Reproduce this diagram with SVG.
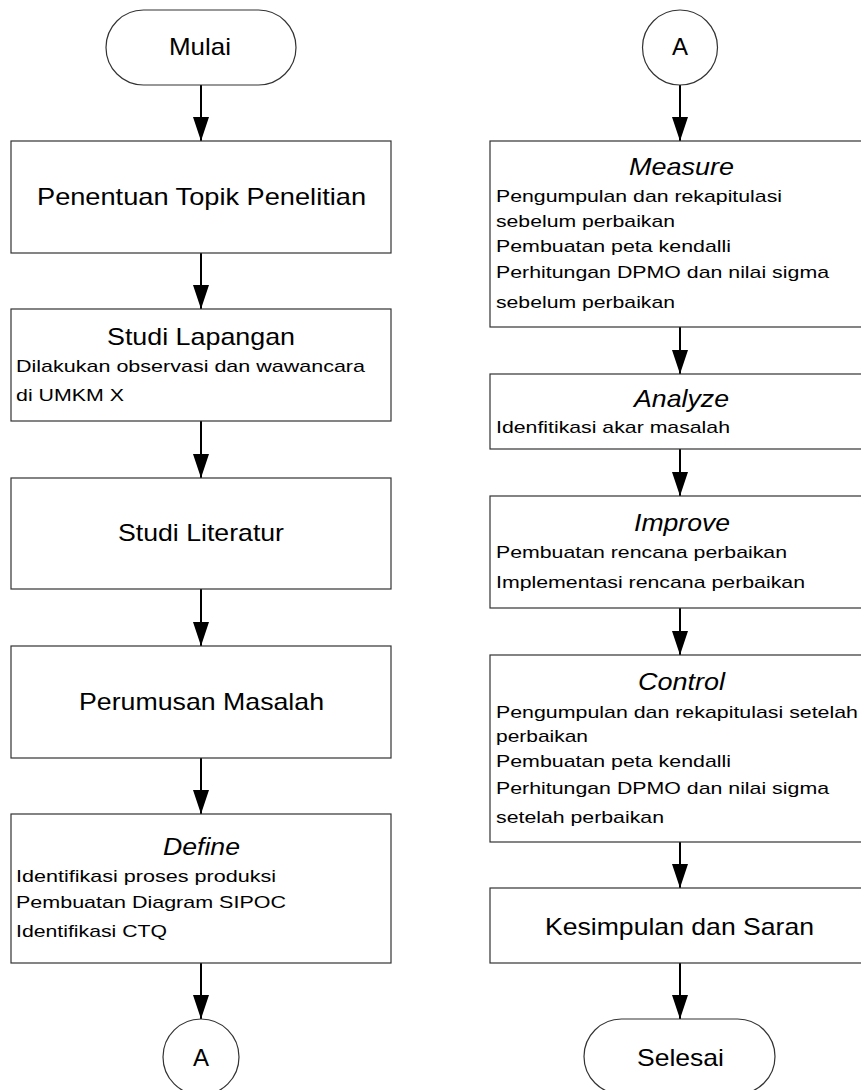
<svg xmlns="http://www.w3.org/2000/svg" width="861" height="1090" viewBox="0 0 861 1090">
<defs>
<style>
.box{fill:#fff;stroke:#333;stroke-width:1.2}
.t{font-family:"Liberation Sans",Arial,sans-serif;fill:#000}
.big{font-size:24px}
.it{font-size:24px;font-style:italic}
.sm{font-size:17px}
.c{text-anchor:middle}
.edge{stroke:#000;stroke-width:2;fill:none;marker-end:url(#ah)}
</style>
<marker id="ah" viewBox="0 0 24 16" refX="24" refY="8" markerWidth="24" markerHeight="16" markerUnits="userSpaceOnUse" orient="auto">
<path d="M0,0 L24,8 L0,16 z" fill="#000"/>
</marker>
</defs>
<rect width="861" height="1090" fill="#fff"/>

<g id="connectors">
<path class="edge" d="M201,85 V141"/>
<path class="edge" d="M201,253 V309"/>
<path class="edge" d="M201,421 V478"/>
<path class="edge" d="M201,589 V646"/>
<path class="edge" d="M201,758 V814"/>
<path class="edge" d="M201,963 V1019"/>
<path class="edge" d="M680,85 V141"/>
<path class="edge" d="M680,327 V374"/>
<path class="edge" d="M680,449 V496"/>
<path class="edge" d="M680,608 V655"/>
<path class="edge" d="M680,842 V888"/>
<path class="edge" d="M680,963 V1019"/>
</g>

<g id="mulai">
<rect class="box" x="106" y="10" width="190" height="75" rx="37.5" ry="37.5"/>
<text class="t big c" x="200" y="55" textLength="62" lengthAdjust="spacingAndGlyphs">Mulai</text>
</g>

<g id="topik">
<rect class="box" x="11" y="141" width="380" height="112"/>
<text class="t big" x="37" y="205" textLength="329" lengthAdjust="spacingAndGlyphs">Penentuan Topik Penelitian</text>
</g>

<g id="studi-lapangan">
<rect class="box" x="11" y="309" width="380" height="112"/>
<text class="t big" x="107" y="345" textLength="188" lengthAdjust="spacingAndGlyphs">Studi Lapangan</text>
<text class="t sm" x="16" y="372" textLength="349" lengthAdjust="spacingAndGlyphs">Dilakukan observasi dan wawancara</text>
<text class="t sm" x="16" y="401" textLength="108" lengthAdjust="spacingAndGlyphs">di UMKM X</text>
</g>

<g id="studi-literatur">
<rect class="box" x="11" y="478" width="380" height="111"/>
<text class="t big" x="118" y="541" textLength="166" lengthAdjust="spacingAndGlyphs">Studi Literatur</text>
</g>

<g id="perumusan">
<rect class="box" x="11" y="646" width="380" height="112"/>
<text class="t big" x="79" y="710" textLength="245" lengthAdjust="spacingAndGlyphs">Perumusan Masalah</text>
</g>

<g id="define">
<rect class="box" x="11" y="814" width="380" height="149"/>
<text class="t it" x="163" y="855" textLength="77" lengthAdjust="spacingAndGlyphs">Define</text>
<text class="t sm" x="16" y="882" textLength="260" lengthAdjust="spacingAndGlyphs">Identifikasi proses produksi</text>
<text class="t sm" x="16" y="908" textLength="270" lengthAdjust="spacingAndGlyphs">Pembuatan Diagram SIPOC</text>
<text class="t sm" x="16" y="937" textLength="151" lengthAdjust="spacingAndGlyphs">Identifikasi CTQ</text>
</g>

<g id="a-out">
<circle class="box" cx="201" cy="1057" r="38"/>
<text class="t big c" x="201" y="1066">A</text>
</g>

<g id="a-in">
<circle class="box" cx="680" cy="47.5" r="37.5"/>
<text class="t big c" x="680" y="55">A</text>
</g>

<g id="measure">
<rect class="box" x="490" y="141" width="380" height="186"/>
<text class="t it" x="629" y="175" textLength="105" lengthAdjust="spacingAndGlyphs">Measure</text>
<text class="t sm" x="496" y="202" textLength="286" lengthAdjust="spacingAndGlyphs">Pengumpulan dan rekapitulasi</text>
<text class="t sm" x="496" y="227" textLength="179" lengthAdjust="spacingAndGlyphs">sebelum perbaikan</text>
<text class="t sm" x="496" y="252" textLength="235" lengthAdjust="spacingAndGlyphs">Pembuatan peta kendalli</text>
<text class="t sm" x="496" y="278" textLength="333" lengthAdjust="spacingAndGlyphs">Perhitungan DPMO dan nilai sigma</text>
<text class="t sm" x="496" y="308" textLength="179" lengthAdjust="spacingAndGlyphs">sebelum perbaikan</text>
</g>

<g id="analyze">
<rect class="box" x="490" y="374" width="380" height="75"/>
<text class="t it" x="634" y="407" textLength="95" lengthAdjust="spacingAndGlyphs">Analyze</text>
<text class="t sm" x="496" y="433" textLength="234" lengthAdjust="spacingAndGlyphs">Idenfitikasi akar masalah</text>
</g>

<g id="improve">
<rect class="box" x="490" y="496" width="380" height="112"/>
<text class="t it" x="634" y="531" textLength="96" lengthAdjust="spacingAndGlyphs">Improve</text>
<text class="t sm" x="496" y="558" textLength="291" lengthAdjust="spacingAndGlyphs">Pembuatan rencana perbaikan</text>
<text class="t sm" x="496" y="588" textLength="309" lengthAdjust="spacingAndGlyphs">Implementasi rencana perbaikan</text>
</g>

<g id="control">
<rect class="box" x="490" y="655" width="380" height="187"/>
<text class="t it" x="638" y="690" textLength="87" lengthAdjust="spacingAndGlyphs">Control</text>
<text class="t sm" x="496" y="718" textLength="362" lengthAdjust="spacingAndGlyphs">Pengumpulan dan rekapitulasi setelah</text>
<text class="t sm" x="496" y="742" textLength="92" lengthAdjust="spacingAndGlyphs">perbaikan</text>
<text class="t sm" x="496" y="767" textLength="235" lengthAdjust="spacingAndGlyphs">Pembuatan peta kendalli</text>
<text class="t sm" x="496" y="794" textLength="333" lengthAdjust="spacingAndGlyphs">Perhitungan DPMO dan nilai sigma</text>
<text class="t sm" x="496" y="823" textLength="168" lengthAdjust="spacingAndGlyphs">setelah perbaikan</text>
</g>

<g id="kesimpulan">
<rect class="box" x="490" y="888" width="380" height="75"/>
<text class="t big" x="545" y="935" textLength="269" lengthAdjust="spacingAndGlyphs">Kesimpulan dan Saran</text>
</g>

<g id="selesai">
<rect class="box" x="584" y="1019" width="191" height="75" rx="37.5" ry="37.5"/>
<text class="t big" x="637" y="1066" textLength="87" lengthAdjust="spacingAndGlyphs">Selesai</text>
</g>
</svg>
